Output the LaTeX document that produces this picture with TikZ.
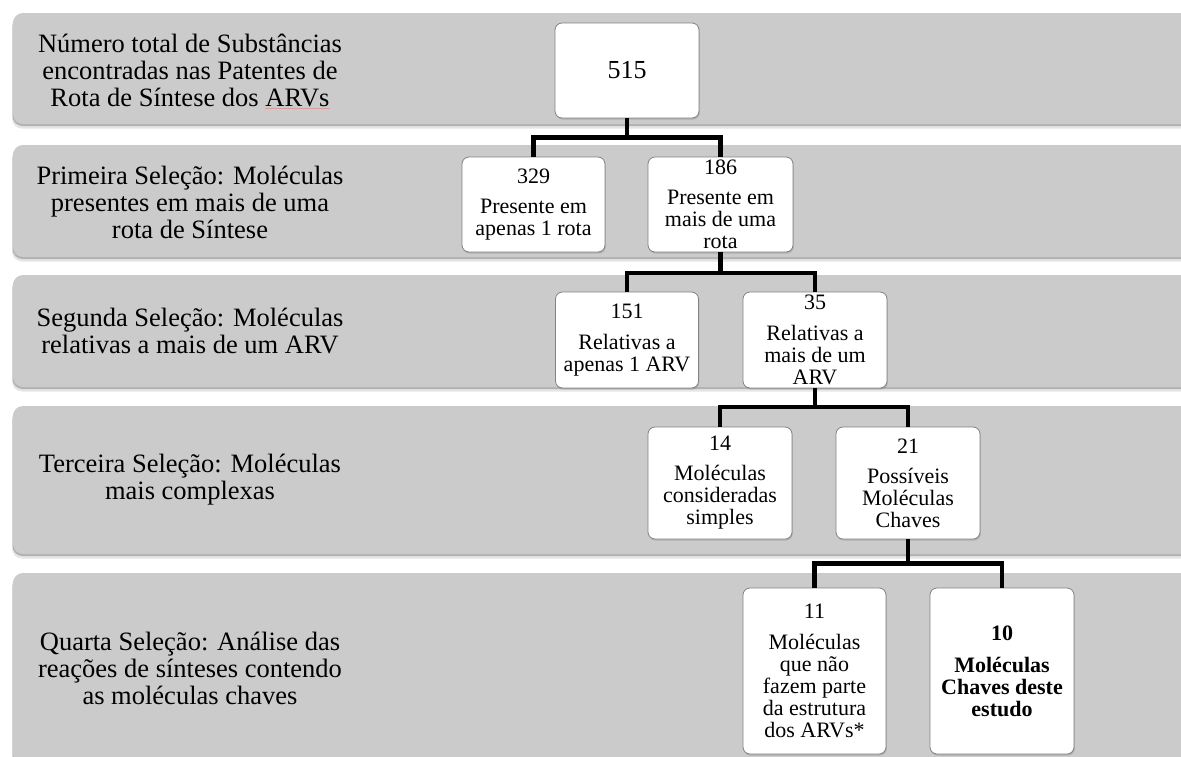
\documentclass[tikz,border=0pt]{standalone}
\usepackage{fontspec}
\setmainfont{Liberation Serif}
\usetikzlibrary{shadows}
\definecolor{bandgray}{RGB}{203,203,203}
\definecolor{boxborder}{RGB}{130,130,130}
\newcommand{\bandrect}[2]{%
  \fill[black,opacity=0.10,rounded corners=10pt] (12,#1+4.5) rectangle (1200,#2+4.5);
  \fill[black,opacity=0.22,rounded corners=10pt] (12.5,#1+2) rectangle (1200,#2+2);
  \fill[bandgray,rounded corners=10pt] (13,#1) rectangle (1200,#2);}
\begin{document}
\begin{tikzpicture}[x=1pt,y=-1pt,
  box/.style={draw=boxborder, line width=0.8pt, fill=white, rounded corners=7pt,
    minimum width=143pt, inner sep=0pt, align=center,
    font=\fontsize{22}{22}\selectfont,
    drop shadow={shadow xshift=0.8pt,shadow yshift=-1.6pt,opacity=0.35}},
  lbl/.style={align=center, inner sep=0pt, font=\fontsize{26.5}{27}\selectfont},
  conn/.style={line width=4.6pt, line join=miter, draw=black}
]
\clip (0,0) rectangle (1181,756);
\fill[white] (0,0) rectangle (1181,756);

% bands
\bandrect{13}{124}
\bandrect{145}{257}
\bandrect{275}{387}
\bandrect{406}{554}
\bandrect{573}{763}

% left labels
\node[lbl] (l1) at (190,71) {Número total de Substâncias\\encontradas nas Patentes de\\Rota de Síntese dos \textcolor{red!45}{$\underline{\hbox{\color{black}ARVs}}$}};
\node[lbl] (l2) at (190,202) {Primeira Seleção: Moléculas\\presentes em mais de uma\\rota de Síntese};
\node[lbl] (l3) at (190,331) {Segunda Seleção: Moléculas\\relativas a mais de um ARV};
\node[lbl] (l4) at (190,480) {Terceira Seleção: Moléculas\\mais complexas};
\node[lbl] (l5) at (190,668) {Quarta Seleção: Análise das\\reações de sínteses contendo\\as moléculas chaves};

% boxes
\node[box, minimum width=144pt, minimum height=95pt, font=\fontsize{26}{26}\selectfont] (n515) at (627,70.5) {515};
\node[box, minimum height=95pt] (n329) at (533.5,204.5) {329\\[8pt]Presente em\\apenas 1 rota};
\node[box, minimum width=145pt, minimum height=95pt] (n186) at (720.5,204.5) {186\\[8pt]Presente em\\mais de uma\\rota};
\node[box, minimum height=96pt] (n151) at (627,340) {151\\[9pt]Relativas a\\apenas 1 ARV};
\node[box, minimum width=144pt, minimum height=96pt] (n35) at (815,340) {35\\[9pt]Relativas a\\mais de um\\ARV};
\node[box, minimum width=144pt, minimum height=112pt] (n14) at (720,483) {14\\[8pt]Moléculas\\consideradas\\simples};
\node[box, minimum width=144pt, minimum height=112pt] (n21) at (908,483) {21\\[8pt]Possíveis\\Moléculas\\Chaves};
\node[box, minimum height=166pt] (n11) at (814.5,671) {11\\[9pt]Moléculas\\que não\\fazem parte\\da estrutura\\dos ARVs*};
\node[box, minimum width=144pt, minimum height=166pt, font=\fontsize{22}{22}\selectfont\bfseries] (n10) at (1002,671) {10\\[10pt]Moléculas\\Chaves deste\\estudo};

% connectors
\draw[conn] (n515.south) -- ++(0,19) -| (n329.north);
\draw[conn] (n515.south) -- ++(0,19) -| (n186.north);
\draw[conn] (n186.south) -- ++(0,20.5) -| (n151.north);
\draw[conn] (n186.south) -- ++(0,20.5) -| (n35.north);
\draw[conn] (n35.south) -- ++(0,18.5) -| (n14.north);
\draw[conn] (n35.south) -- ++(0,18.5) -| (n21.north);
\draw[conn] (n21.south) -- ++(0,24) -| (n11.north);
\draw[conn] (n21.south) -- ++(0,24) -| (n10.north);
\end{tikzpicture}
\end{document}
